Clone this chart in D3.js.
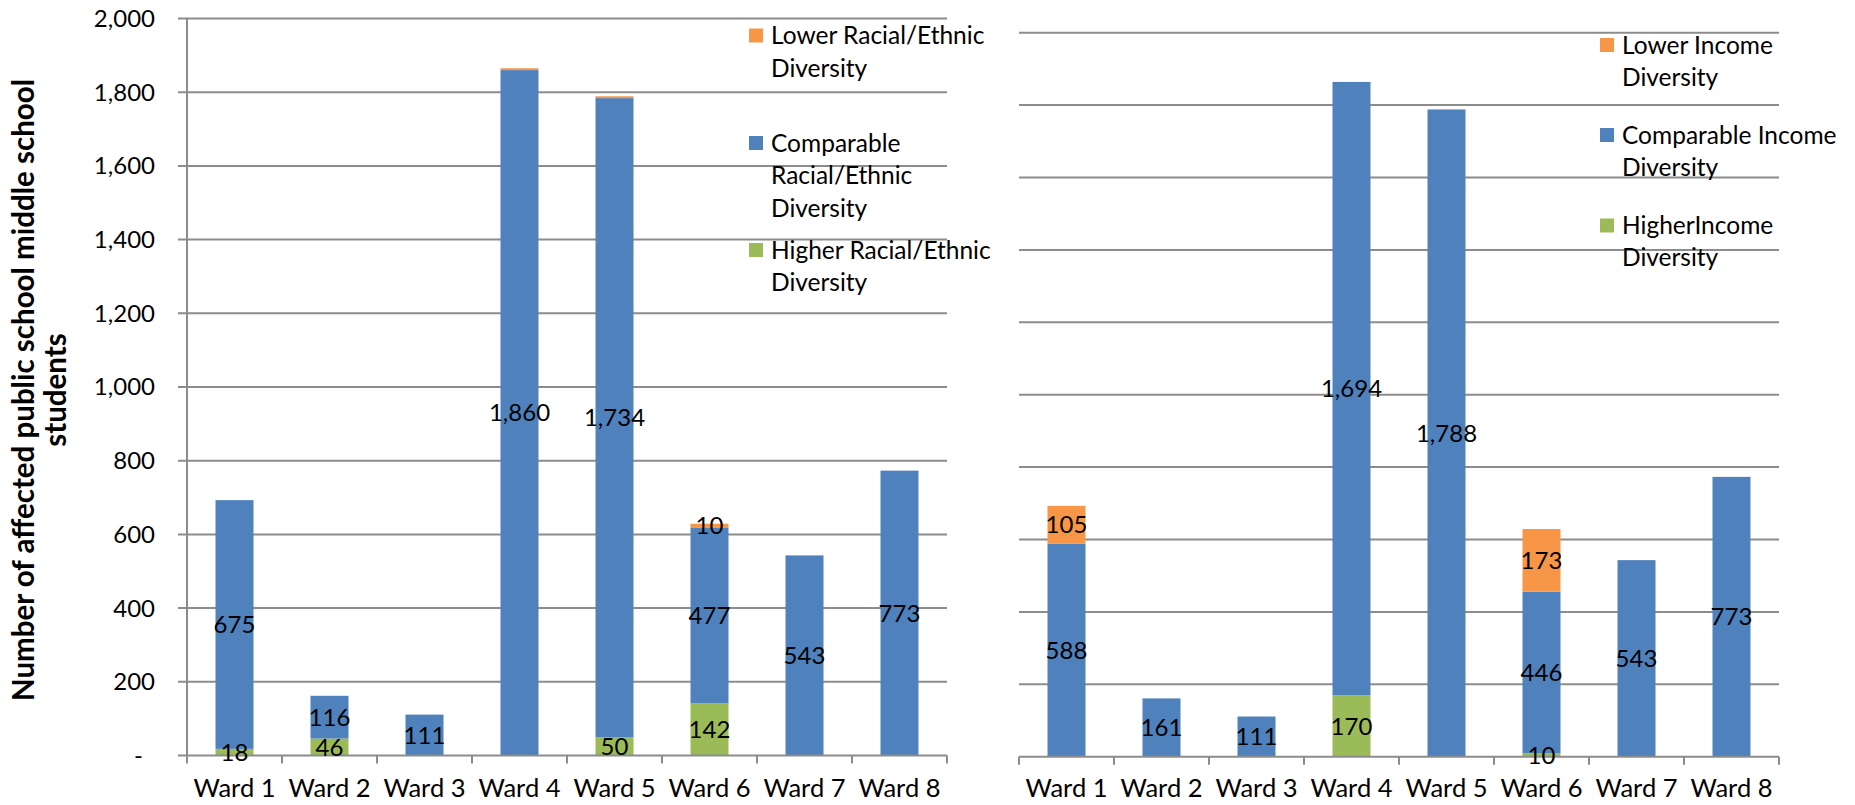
<!DOCTYPE html>
<html>
<head>
<meta charset="utf-8">
<script src="https://cdn.jsdelivr.net/npm/d3@7"></script>
<style>
  html, body { margin: 0; padding: 0; background: #ffffff; }
  svg { display: block; }
  text { font-family: Lato, "Liberation Sans", sans-serif; fill: #000; }
</style>
</head>
<body>
<svg id="chart" width="1855" height="805"></svg>
<script>
// Affected public school middle school students by ward
const wards = ["Ward 1", "Ward 2", "Ward 3", "Ward 4", "Ward 5", "Ward 6", "Ward 7", "Ward 8"];

// Racial/ethnic diversity comparison
const raceLower      = [0, 0, 0, 5, 5, 10, 0, 0];
const raceComparable = [675, 116, 111, 1860, 1734, 477, 543, 773];
const raceHigher     = [18, 46, 0, 0, 50, 142, 0, 0];

// Income diversity comparison
const incomeLower      = [105, 0, 0, 0, 0, 173, 0, 0];
const incomeComparable = [588, 161, 111, 1694, 1788, 446, 543, 773];
const incomeHigher     = [0, 0, 0, 170, 0, 10, 0, 0];

const yTicks = [0, 200, 400, 600, 800, 1000, 1200, 1400, 1600, 1800, 2000];

const raceLegend = [
  { key: "lower", lines: ["Lower Racial/Ethnic", "Diversity"] },
  { key: "comparable", lines: ["Comparable", "Racial/Ethnic", "Diversity"] },
  { key: "higher", lines: ["Higher Racial/Ethnic", "Diversity"] }
];
const incomeLegend = [
  { key: "lower", lines: ["Lower Income", "Diversity"] },
  { key: "comparable", lines: ["Comparable Income", "Diversity"] },
  { key: "higher", lines: ["HigherIncome", "Diversity"] }
];

const colors = { lower: "#F79646", comparable: "#4F81BD", higher: "#9BBB59" };
const gridColor = "#8c8c8c";
const svg = d3.select("#chart");
const fs = 24;        // tick and value labels
const fsCat = 25.5;   // category labels
const fsLegend = 24.5;

function drawPanel(cfg) {
  const rows = wards.map((w, i) => ({
    ward: w,
    higher: cfg.higher[i],
    comparable: cfg.comparable[i],
    lower: cfg.lower[i]
  }));
  const keys = ["higher", "comparable", "lower"];
  const series = d3.stack().keys(keys)(rows);

  const x = d3.scaleBand().domain(wards).range([cfg.x0, cfg.x1])
    .paddingInner(0.6).paddingOuter(0.3);
  const y = d3.scaleLinear().domain([0, 2000]).range([cfg.yBase, cfg.yTop]);
  const step = x.step();
  const edge = w => x(w) - (step - x.bandwidth()) / 2;

  const g = svg.append("g");

  // horizontal gridlines
  g.append("g").selectAll("line").data(yTicks.filter(t => t > 0)).join("line")
    .attr("x1", cfg.x0 - (cfg.showYAxis ? 9 : 0)).attr("x2", cfg.x1)
    .attr("y1", d => y(d)).attr("y2", d => y(d))
    .attr("stroke", gridColor).attr("stroke-width", 2);

  if (cfg.showYAxis) {
    g.append("line")
      .attr("x1", cfg.x0).attr("x2", cfg.x0)
      .attr("y1", y(2000)).attr("y2", y(0))
      .attr("stroke", gridColor).attr("stroke-width", 2);
    g.append("g").selectAll("text").data(yTicks).join("text")
      .attr("x", d => d === 0 ? cfg.x0 - 44 : cfg.x0 - 32)
      .attr("y", d => y(d)).attr("dy", "0.35em")
      .attr("text-anchor", "end")
      .style("font-size", fs + "px")
      .text(d => d === 0 ? "-" : d3.format(",")(d));
  }

  // bars
  g.append("g").selectAll("g").data(series).join("g")
    .attr("fill", s => colors[s.key])
    .selectAll("rect").data(s => s.filter(d => d[1] - d[0] > 0)).join("rect")
    .attr("x", d => x(d.data.ward))
    .attr("width", x.bandwidth())
    .attr("y", d => y(d[1]))
    .attr("height", d => y(d[0]) - y(d[1]));

  // category axis
  g.append("line")
    .attr("x1", cfg.x0 - (cfg.showYAxis ? 9 : 0)).attr("x2", cfg.x1)
    .attr("y1", y(0)).attr("y2", y(0))
    .attr("stroke", gridColor).attr("stroke-width", 2);
  const tickPos = wards.map(edge).concat([edge(wards[wards.length - 1]) + step]);
  g.append("g").selectAll("line").data(tickPos).join("line")
    .attr("x1", d => d).attr("x2", d => d)
    .attr("y1", y(0)).attr("y2", y(0) + 8)
    .attr("stroke", gridColor).attr("stroke-width", 2);
  g.append("g").selectAll("text").data(wards).join("text")
    .attr("x", d => x(d) + x.bandwidth() / 2)
    .attr("y", 797)
    .attr("text-anchor", "middle")
    .style("font-size", fsCat + "px")
    .text(d => d);

  // value labels centred in each segment
  const labels = [];
  series.forEach(s => s.forEach(d => {
    const v = d[1] - d[0];
    if (v >= 10) labels.push({ ward: d.data.ward, v, mid: (d[0] + d[1]) / 2 });
  }));
  g.append("g").selectAll("text").data(labels).join("text")
    .attr("x", d => x(d.ward) + x.bandwidth() / 2)
    .attr("y", d => y(d.mid)).attr("dy", "0.36em")
    .attr("text-anchor", "middle")
    .style("font-size", fs + "px")
    .text(d => d3.format(",")(d.v));

  // legend
  const lg = g.append("g");
  cfg.legend.forEach((item, i) => {
    const cy = cfg.legendY[i];
    lg.append("rect")
      .attr("x", cfg.legendX).attr("y", cy - 7)
      .attr("width", 14).attr("height", 14)
      .attr("fill", colors[item.key]);
    item.lines.forEach((ln, j) => {
      lg.append("text")
        .attr("x", cfg.legendX + 22)
        .attr("y", cy + j * cfg.legendLine).attr("dy", "0.36em")
        .style("font-size", fsLegend + "px")
        .text(ln);
    });
  });
}

drawPanel({
  lower: raceLower, comparable: raceComparable, higher: raceHigher,
  x0: 187, x1: 947, yBase: 755.5, yTop: 18.5, showYAxis: true,
  legend: raceLegend, legendX: 749, legendY: [35.5, 143, 250], legendLine: 32.5
});

drawPanel({
  lower: incomeLower, comparable: incomeComparable, higher: incomeHigher,
  x0: 1019, x1: 1779, yBase: 756.7, yTop: 32.7, showYAxis: false,
  legend: incomeLegend, legendX: 1600, legendY: [45, 135, 225.5], legendLine: 32
});

// vertical axis title
const title = svg.append("g").attr("transform", "translate(0,390) rotate(-90)");
title.append("text").attr("x", 0).attr("y", 34)
  .attr("text-anchor", "middle")
  .style("font-size", "29.5px").style("font-weight", "bold")
  .text("Number of affected public school middle school");
title.append("text").attr("x", 0).attr("y", 66)
  .attr("text-anchor", "middle")
  .style("font-size", "29.5px").style("font-weight", "bold")
  .text("students");
</script>
</body>
</html>
